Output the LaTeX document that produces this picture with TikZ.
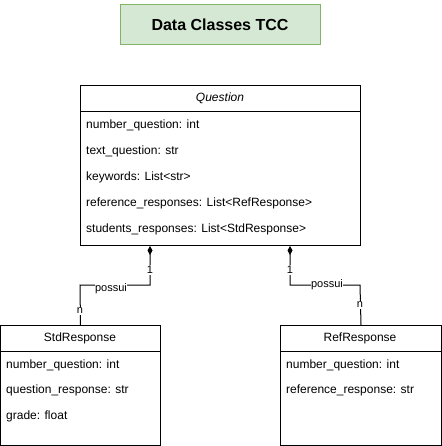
\documentclass[tikz,border=0pt]{standalone}
\usepackage{fontspec}
\setmainfont{Liberation Sans}
\usetikzlibrary{arrows.meta,calc}
\definecolor{tfill}{HTML}{D5E8D4}
\definecolor{tdraw}{HTML}{82B366}
\tikzset{
  titlebox/.style={draw=tdraw, fill=tfill, line width=1pt, minimum width=200pt, minimum height=40pt, inner sep=0pt, font=\fontsize{16}{19}\selectfont\bfseries},
  clsbox/.style={draw, line width=1pt, anchor=north west, inner sep=0pt},
  hdr/.style={font=\fontsize{12}{14}\selectfont, inner sep=0pt},
  attr/.style={anchor=west, font=\fontsize{12}{14}\selectfont, inner sep=0pt},
  lbl/.style={fill=white, inner sep=1pt, font=\fontsize{11}{13}\selectfont},
  conn/.style={line width=1pt},
  comp/.style={-{Diamond[length=9pt,width=5pt]}}
}
\begin{document}
\begin{tikzpicture}[x=1pt,y=-1pt]
\useasboundingbox (0,0) rectangle (441,446);
% title
\node[titlebox] (title) at (220,25) {Data Classes TCC};
% Question
\node[clsbox, minimum width=280pt, minimum height=160pt] (q) at (80,85) {};
\node[hdr] (qh) at (220,98.5) {\itshape Question};
\draw[line width=1pt] (80,112) -- (360,112);
\node[attr] (q1) at (86,125) {number\_question: int};
\node[attr] (q2) at (86,151) {text\_question: str};
\node[attr] (q3) at (86,177) {keywords: List<str>};
\node[attr] (q4) at (86,203) {reference\_responses: List<RefResponse>};
\node[attr] (q5) at (86,229) {students\_responses: List<StdResponse>};
% StdResponse
\node[clsbox, minimum width=160pt, minimum height=120pt] (s) at (0,325) {};
\node[hdr] (sh) at (80,338) {StdResponse};
\draw[line width=1pt] (0,351) -- (160,351);
\node[attr] (s1) at (6,365) {number\_question: int};
\node[attr] (s2) at (6,390) {question\_response: str};
\node[attr] (s3) at (6,416) {grade: float};
% RefResponse
\node[clsbox, minimum width=161pt, minimum height=120pt] (r) at (280,325) {};
\node[hdr] (rh) at (360,338) {RefResponse};
\draw[line width=1pt] (280,351) -- (441,351);
\node[attr] (r1) at (286,365) {number\_question: int};
\node[attr] (r2) at (286,390) {reference\_response: str};
% connectors
\coordinate (ql) at ($(q.south west)+(70,0)$);
\coordinate (qr) at ($(q.south west)+(210,0)$);
\draw[conn, comp] (s.north) -- (80,285) -- (150,285) -- (ql);
\draw[conn, comp] (r.north) -- (360,285) -- (290,285) -- (qr);
\node[lbl] (sl1) at (150,270) {1};
\node[lbl] (sln) at (80,311) {n};
\node[lbl, inner sep=0.5pt] (slp) at (111,289) {possui};
\node[lbl] (rl1) at (290,270) {1};
\node[lbl] (rln) at (360,305) {n};
\node[lbl, inner sep=0.5pt] (rlp) at (327,285) {possui};
\end{tikzpicture}
\end{document}
